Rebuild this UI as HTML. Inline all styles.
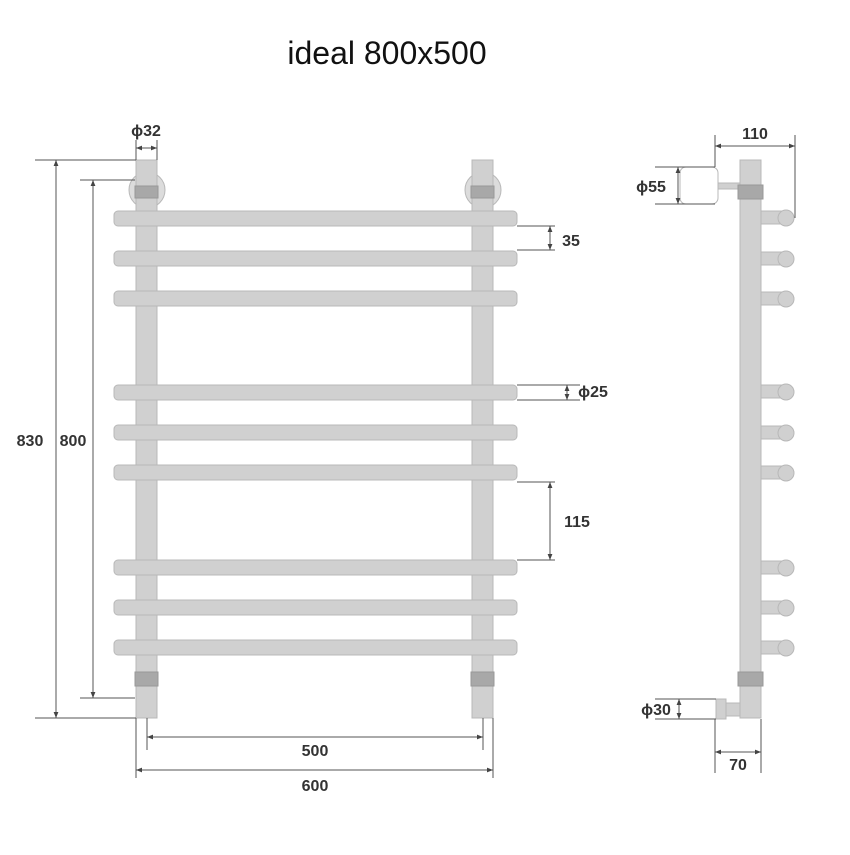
<!DOCTYPE html>
<html><head><meta charset="utf-8"><style>html,body{margin:0;padding:0;background:#fff}</style></head><body>
<svg width="850" height="850" xmlns="http://www.w3.org/2000/svg" font-family="Liberation Sans, sans-serif">
<defs>
<marker id="a" viewBox="0 0 10 10" refX="10" refY="5" markerWidth="6" markerHeight="6" orient="auto-start-reverse"><path d="M0 1L10 5L0 9z" fill="#444"/></marker>
</defs>
<rect width="850" height="850" fill="#fff"/>
<text x="387" y="64" font-size="32" text-anchor="middle" fill="#111">ideal 800x500</text>
<g fill="#d0d0d0" stroke="#b8b8b8" stroke-width="1">
 <circle cx="147" cy="190" r="18" fill="#dcdcdc"/>
 <circle cx="483" cy="190" r="18" fill="#dcdcdc"/>
 <rect x="136" y="160" width="21" height="558"/>
 <rect x="472" y="160" width="21" height="558"/>
 <rect x="114" y="211" width="403" height="15" rx="4"/>
 <rect x="114" y="251" width="403" height="15" rx="4"/>
 <rect x="114" y="291" width="403" height="15" rx="4"/>
 <rect x="114" y="385" width="403" height="15" rx="4"/>
 <rect x="114" y="425" width="403" height="15" rx="4"/>
 <rect x="114" y="465" width="403" height="15" rx="4"/>
 <rect x="114" y="560" width="403" height="15" rx="4"/>
 <rect x="114" y="600" width="403" height="15" rx="4"/>
 <rect x="114" y="640" width="403" height="15" rx="4"/>
</g>
<g fill="#a8a8a8" stroke="#999">
 <rect x="135" y="186" width="23" height="12"/><rect x="471" y="186" width="23" height="12"/>
 <rect x="135" y="672" width="23" height="14"/><rect x="471" y="672" width="23" height="14"/>
</g>
<g fill="#d0d0d0" stroke="#b8b8b8">
 <rect x="680" y="167" width="38" height="37" rx="6" fill="#fff"/>
 <rect x="718" y="183" width="22" height="6"/>
 <g>
  <rect x="761" y="211" width="24" height="13"/><circle cx="786" cy="218" r="8"/>
  <rect x="761" y="252" width="24" height="13"/><circle cx="786" cy="259" r="8"/>
  <rect x="761" y="292" width="24" height="13"/><circle cx="786" cy="299" r="8"/>
  <rect x="761" y="385" width="24" height="13"/><circle cx="786" cy="392" r="8"/>
  <rect x="761" y="426" width="24" height="13"/><circle cx="786" cy="433" r="8"/>
  <rect x="761" y="466" width="24" height="13"/><circle cx="786" cy="473" r="8"/>
  <rect x="761" y="561" width="24" height="13"/><circle cx="786" cy="568" r="8"/>
  <rect x="761" y="601" width="24" height="13"/><circle cx="786" cy="608" r="8"/>
  <rect x="761" y="641" width="24" height="13"/><circle cx="786" cy="648" r="8"/>
 </g>
 <rect x="740" y="160" width="21" height="558"/>
 <rect x="726" y="703" width="14" height="13"/>
 <rect x="716" y="699" width="10" height="20"/>
</g>
<g fill="#a8a8a8" stroke="#999"><rect x="738" y="185" width="25" height="14"/><rect x="738" y="672" width="25" height="14"/></g>
<g stroke="#555" stroke-width="1" fill="none">
 <path d="M35 160H136M35 718H136M80 180H135M80 698H135"/>
 <path d="M136 140V160M157 140V160"/>
 <path d="M517 226H555M517 250H555"/>
 <path d="M517 385H580M517 400H580"/>
 <path d="M517 482H555M517 560H555"/>
 <path d="M147 718V750M483 718V750M136 718V778M493 718V778"/>
 <path d="M715 135V167M795 135V218"/>
 <path d="M655 167H715M655 204H715"/>
 <path d="M655 699H716M655 719H716"/>
 <path d="M715 719V773M761 719V773"/>
</g>
<g stroke="#555" stroke-width="1" fill="none" marker-start="url(#a)" marker-end="url(#a)">
 <path d="M56 160V718"/><path d="M93 180V698"/>
 <path d="M136 148H157"/>
 <path d="M550 226V250"/><path d="M567 385V400"/><path d="M550 482V560"/>
 <path d="M147 737H483"/><path d="M136 770H493"/>
 <path d="M715 146H795"/><path d="M678 167V204"/><path d="M679 699V719"/><path d="M715 752H761"/>
</g>
<g fill="#333" font-size="16" font-weight="bold" text-anchor="middle">
 <text x="146" y="136">ϕ32</text>
 <text x="30" y="446">830</text>
 <text x="73" y="446">800</text>
 <text x="571" y="246">35</text>
 <text x="593" y="397">ϕ25</text>
 <text x="577" y="527">115</text>
 <text x="315" y="756">500</text>
 <text x="315" y="791">600</text>
 <text x="755" y="139">110</text>
 <text x="651" y="192">ϕ55</text>
 <text x="656" y="715">ϕ30</text>
 <text x="738" y="770">70</text>
</g>
</svg>
</body></html>
